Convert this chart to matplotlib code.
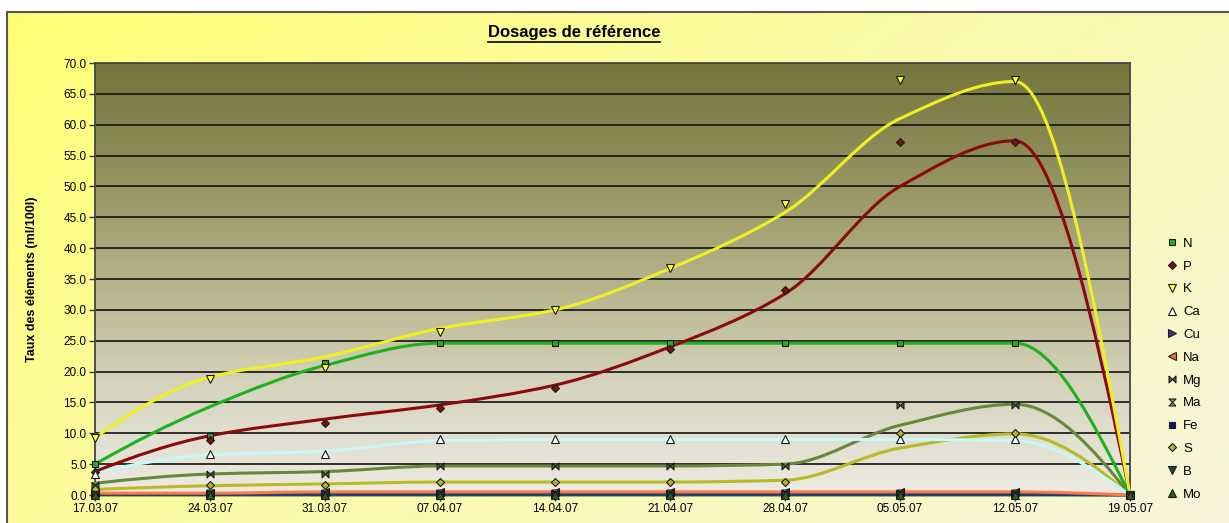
import numpy as np
import matplotlib.pyplot as plt
from matplotlib.path import Path
from matplotlib.patches import PathPatch, Rectangle
from matplotlib.lines import Line2D

plt.rcParams['font.family'] = ['Liberation Sans', 'DejaVu Sans']

dates = ['17.03.07', '24.03.07', '31.03.07', '07.04.07', '14.04.07',
         '21.04.07', '28.04.07', '05.05.07', '12.05.07', '19.05.07']

# mesures relevées (marqueurs)
N = [5.0, 9.5, 21.4, 24.6, 24.6, 24.6, 24.6, 24.6, 24.6, 0.0]
P = [3.8, 8.9, 11.7, 14.1, 17.3, 23.6, 33.2, 57.2, 57.2, 0.0]
K = [9.3, 18.8, 20.6, 26.4, 29.9, 36.8, 47.2, 67.3, 67.3, 0.0]
Ca = [3.4, 6.6, 6.6, 9.0, 9.0, 9.0, 9.0, 9.0, 9.0, 0.0]
Cu = [0.1, 0.1, 0.1, 0.1, 0.1, 0.1, 0.1, 0.1, 0.1, 0.0]
Na = [0.3, 0.3, 0.5, 0.5, 0.5, 0.5, 0.5, 0.5, 0.5, 0.0]
Mg = [1.6, 3.4, 3.4, 4.7, 4.7, 4.7, 4.7, 14.6, 14.6, 0.0]
Ma = [0.3, 0.3, 0.3, 0.3, 0.3, 0.3, 0.3, 0.3, 0.3, 0.0]
Fe = [0.1, 0.1, 0.1, 0.1, 0.1, 0.1, 0.1, 0.1, 0.1, 0.0]
S = [1.0, 1.6, 1.6, 2.1, 2.1, 2.1, 2.1, 10.0, 10.0, 0.0]
B = [0.05, 0.05, 0.05, 0.05, 0.05, 0.05, 0.05, 0.05, 0.05, 0.0]
Mo = [0.0, 0.0, 0.0, 0.0, 0.0, 0.0, 0.0, 0.0, 0.0, 0.0]

# courbes lissées
N_courbe = [5.0, 14.3, 21.0, 24.6, 24.6, 24.6, 24.6, 24.6, 24.6, 0.0]
P_courbe = [3.8, 9.6, 12.3, 14.6, 17.8, 24.0, 32.6, 50.0, 57.4, 0.0]
K_courbe = [9.3, 19.1, 22.4, 27.0, 30.0, 36.7, 45.8, 61.0, 67.0, 0.0]
Ca_courbe = [3.6, 6.5, 7.1, 8.8, 9.0, 9.0, 9.0, 9.0, 8.8, 0.0]
Na_courbe = [0.3, 0.3, 0.5, 0.5, 0.5, 0.5, 0.5, 0.5, 0.5, 0.0]
Mg_courbe = [1.9, 3.4, 3.8, 4.7, 4.7, 4.7, 5.0, 11.3, 14.7, 0.0]
Fe_courbe = [0.1, 0.1, 0.1, 0.1, 0.1, 0.1, 0.1, 0.1, 0.1, 0.0]
S_courbe = [0.9, 1.5, 1.8, 2.1, 2.1, 2.1, 2.4, 7.6, 9.9, 0.0]
Mo_courbe = [0.0, 0.0, 0.0, 0.0, 0.0, 0.0, 0.0, 0.0, 0.0, 0.0]


def pentes(y):
    y = np.asarray(y, float)
    d = np.diff(y)
    m = np.zeros_like(y)
    for k in range(1, len(y) - 1):
        if d[k - 1] * d[k] > 0:
            m[k] = 2 / (1 / d[k - 1] + 1 / d[k])

    def bout(d0, d1):
        t = (3 * d0 - d1) / 2
        if np.sign(t) != np.sign(d0):
            return 0.0
        if np.sign(d0) != np.sign(d1) and abs(t) > abs(3 * d0):
            return 3 * d0
        return t
    m[0] = bout(d[0], d[1])
    m[-1] = -bout(-d[-1], -d[-2])
    return m


def courbe(ax, y, color, lw=2.2, z=3):
    m = pentes(y)
    verts = [(0, y[0])]
    codes = [Path.MOVETO]
    for i in range(len(y) - 1):
        verts += [(i + 1 / 3, y[i] + m[i] / 3),
                  (i + 1 - 1 / 3, y[i + 1] - m[i + 1] / 3),
                  (i + 1, y[i + 1])]
        codes += [Path.CURVE4] * 3
    ax.add_patch(PathPatch(Path(verts, codes), fill=False, edgecolor=color,
                           lw=lw, zorder=z, capstyle='round', clip_on=False))


# marqueurs papillon / sablier
papillon = Path([(-1, 1), (-1, -1), (0, 0), (1, -1), (1, 1), (0, 0), (-1, 1)])
sablier = Path([(1, -1), (-1, -1), (0, 0), (-1, 1), (1, 1), (0, 0), (1, -1)])

series = [
    ('N', N, 's', '#2ba52b', 5),
    ('P', P, 'D', '#7d1010', 4),
    ('K', K, 'v', '#ffff30', 6),
    ('Ca', Ca, '^', '#f4fbfb', 6),
    ('Cu', Cu, '>', '#5b2a7c', 6),
    ('Na', Na, '<', '#ff6a3a', 6),
    ('Mg', Mg, papillon, '#4f6b2a', 5),
    ('Ma', Ma, sablier, '#9a9a9a', 5),
    ('Fe', Fe, 's', '#12127a', 5),
    ('S', S, 'D', '#b3b32c', 4),
    ('B', B, 'v', '#1d4a4c', 6),
    ('Mo', Mo, '^', '#2e5e22', 6),
]

fig = plt.figure(figsize=(12.29, 5.23), dpi=100, facecolor='white')
W, H = 1229, 523

# fond de la zone de graphique
bg = fig.add_axes([7 / W, 0, 1 - 7 / W, 1 - 12 / H], zorder=-10)
gx, gy = np.meshgrid(np.linspace(0, 1, 300), np.linspace(0, 1, 150))
s = np.clip(0.6 * gx + 0.35 * gy, 0, 1)[..., None]
jaune = np.array([255, 255, 118]) / 255
creme = np.array([247, 244, 226]) / 255
bg.imshow(jaune + (creme - jaune) * s, aspect='auto', extent=[0, 1, 1, 0])
bg.set_axis_off()
fig.add_artist(Rectangle((7 / W, -0.1), 1.1, 1 - 12 / H + 0.1,
                         transform=fig.transFigure, fill=False,
                         edgecolor='#555555', lw=1.5, zorder=-5))

ax = fig.add_axes([95 / W, 1 - 495 / H, (1130 - 95) / W, (495 - 63) / H])

# fond dégradé de la zone de traçage
t = np.linspace(0, 1, 256)
stops = [0, 0.2, 0.5, 0.75, 1]
cols = np.array([[118, 118, 62], [140, 138, 86], [180, 178, 136],
                 [214, 212, 190], [237, 235, 226]]) / 255
grad = np.stack([np.interp(t, stops, cols[:, c]) for c in range(3)], axis=1)
ax.imshow(grad[:, None, :], aspect='auto', extent=[0, 9, 0, 70],
          origin='upper', zorder=0)

ax.set_xlim(0, 9)
ax.set_ylim(0, 70)
ax.set_yticks(np.arange(0, 70.1, 5))
ax.set_yticklabels([f'{v:.1f}' for v in np.arange(0, 70.1, 5)])
ax.set_xticks(range(len(dates)))
ax.set_xticklabels(dates)
ax.tick_params(axis='both', labelsize=8.5, length=4, width=1,
               color='#333333', pad=2)
for v in np.arange(5, 70, 5):
    ax.axhline(v, color='#111111', lw=1.2, zorder=1)
for sp in ax.spines.values():
    sp.set_color('#444444')
    sp.set_linewidth(1.3)

# courbes
courbe(ax, Mo_courbe, '#3f7a1c')
courbe(ax, Fe_courbe, '#1f3f7a')
courbe(ax, Na_courbe, '#ff7a45')
courbe(ax, S_courbe, '#b9b923')
courbe(ax, Mg_courbe, '#66883a')
courbe(ax, Ca_courbe, '#c9f7f7')
courbe(ax, N_courbe, '#1fb01f')
courbe(ax, P_courbe, '#8a0b0b')
courbe(ax, K_courbe, '#f0f020')

# points de mesure
x = np.arange(len(dates))
handles = []
for nom, vals, mk, fc, ms in series:
    ax.plot(x, vals, ls='none', marker=mk, mfc=fc, mec='#1a1a1a', mew=0.8,
            ms=ms, zorder=5, clip_on=False)
    handles.append(Line2D([], [], ls='none', marker=mk, mfc=fc,
                          mec='#1a1a1a', mew=0.8, ms=ms, label=nom))

fig.legend(handles=handles, loc='upper left',
           bbox_to_anchor=(1160 / W, 1 - 231 / H), frameon=False,
           fontsize=9.5, labelspacing=0.80, handlelength=0.8,
           handletextpad=0.45, borderpad=0)

ax.set_ylabel('Taux des éléments (ml/100l)', fontsize=9, fontweight='bold')
ax.yaxis.set_label_coords(-57 / (1130 - 95), 0.5)

titre = fig.text(574 / W, 1 - 33 / H, 'Dosages de référence', ha='center',
                 va='center', fontsize=12, fontweight='bold')
fig.canvas.draw()
bb = titre.get_window_extent()
fig.add_artist(Line2D([bb.x0, bb.x1], [bb.y0 - 1, bb.y0 - 1], color='black',
                      lw=1.2, transform=None))

fig.savefig('out.png', dpi=100, facecolor='white')
